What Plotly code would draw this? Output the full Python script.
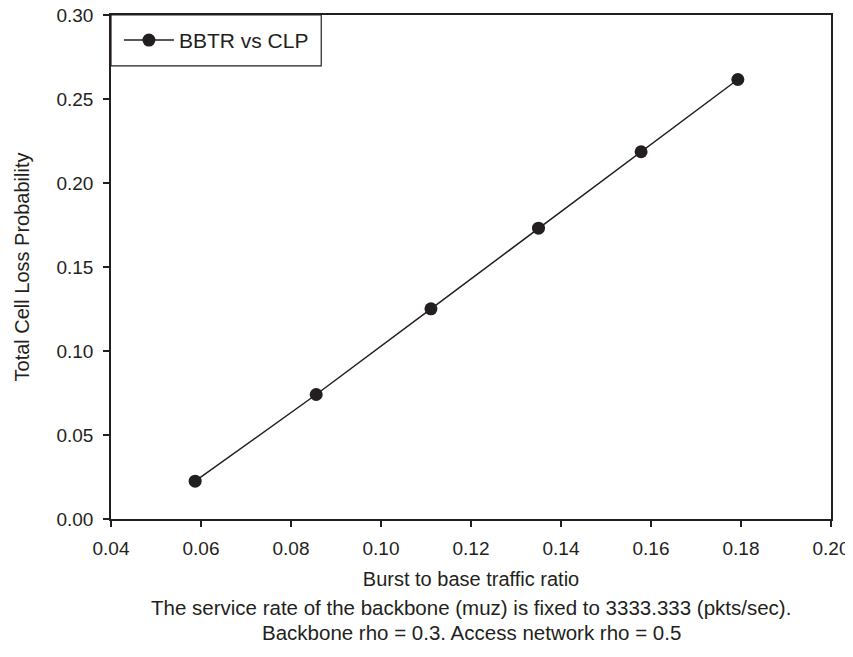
import plotly.graph_objects as go

bbtr = [0.0587, 0.0856, 0.1111, 0.1350, 0.1578, 0.1793]
clp = [0.0225, 0.0741, 0.1251, 0.1731, 0.2186, 0.2616]
series_name = "BBTR vs CLP"
x_title = "Burst to base traffic ratio"
y_title = "Total Cell Loss Probability"
caption = ["The service rate of the backbone (muz) is fixed to 3333.333 (pkts/sec).",
           "Backbone rho = 0.3. Access network rho = 0.5"]

font_family = "Liberation Sans, Arial, sans-serif"
ink = "#231f20"

fig = go.Figure()
fig.add_trace(go.Scatter(
    x=bbtr, y=clp, mode="lines+markers", name=series_name,
    line=dict(color=ink, width=1.5),
    marker=dict(color=ink, size=13),
))

fig.update_layout(
    width=853, height=657,
    margin=dict(l=103, r=30, t=7, b=146),
    paper_bgcolor="white", plot_bgcolor="white",
    font=dict(family=font_family, color=ink, size=19),
    showlegend=True,
    legend=dict(x=0.011, y=0.9495, xanchor="left", yanchor="middle",
                borderwidth=0, bgcolor="rgba(0,0,0,0)",
                font=dict(size=21, color=ink), itemwidth=50,
                tracegroupgap=0),
    xaxis=dict(range=[0.04, 0.20], tickvals=[0.04, 0.06, 0.08, 0.10, 0.12, 0.14, 0.16, 0.18, 0.20],
               tickformat=".2f", showgrid=False, zeroline=False, automargin=False,
               ticklabeloverflow="allow",
               showline=True, linecolor=ink, linewidth=1.5, mirror=True,
               ticks="outside", ticklen=6, tickcolor=ink, tickwidth=1.5,
               tickfont=dict(size=19), ticklabelstandoff=5,
               title=dict(text=x_title, font=dict(size=20), standoff=14)),
    yaxis=dict(range=[0, 0.30], tickvals=[0, 0.05, 0.10, 0.15, 0.20, 0.25, 0.30],
               tickformat=".2f", showgrid=False, zeroline=False, automargin=False,
               ticklabeloverflow="allow",
               showline=True, linecolor=ink, linewidth=1.5, mirror=True,
               ticks="outside", ticklen=6, tickcolor=ink, tickwidth=1.5,
               tickfont=dict(size=19), ticklabelstandoff=6,
               title=dict(text=y_title, font=dict(size=20), standoff=21)),
)

# legend frame
fig.add_shape(type="rect", xref="paper", yref="paper", x0=0, x1=0.292, y0=0.899, y1=1,
              line=dict(color=ink, width=1.2), fillcolor="rgba(0,0,0,0)", layer="above")

for i, line in enumerate(caption):
    fig.add_annotation(text=line, xref="paper", yref="paper", x=0.5, y=0,
                       yshift=-88 - 25 * i, yanchor="middle", showarrow=False,
                       font=dict(size=20.5, color=ink))

fig.write_html("out.html")
